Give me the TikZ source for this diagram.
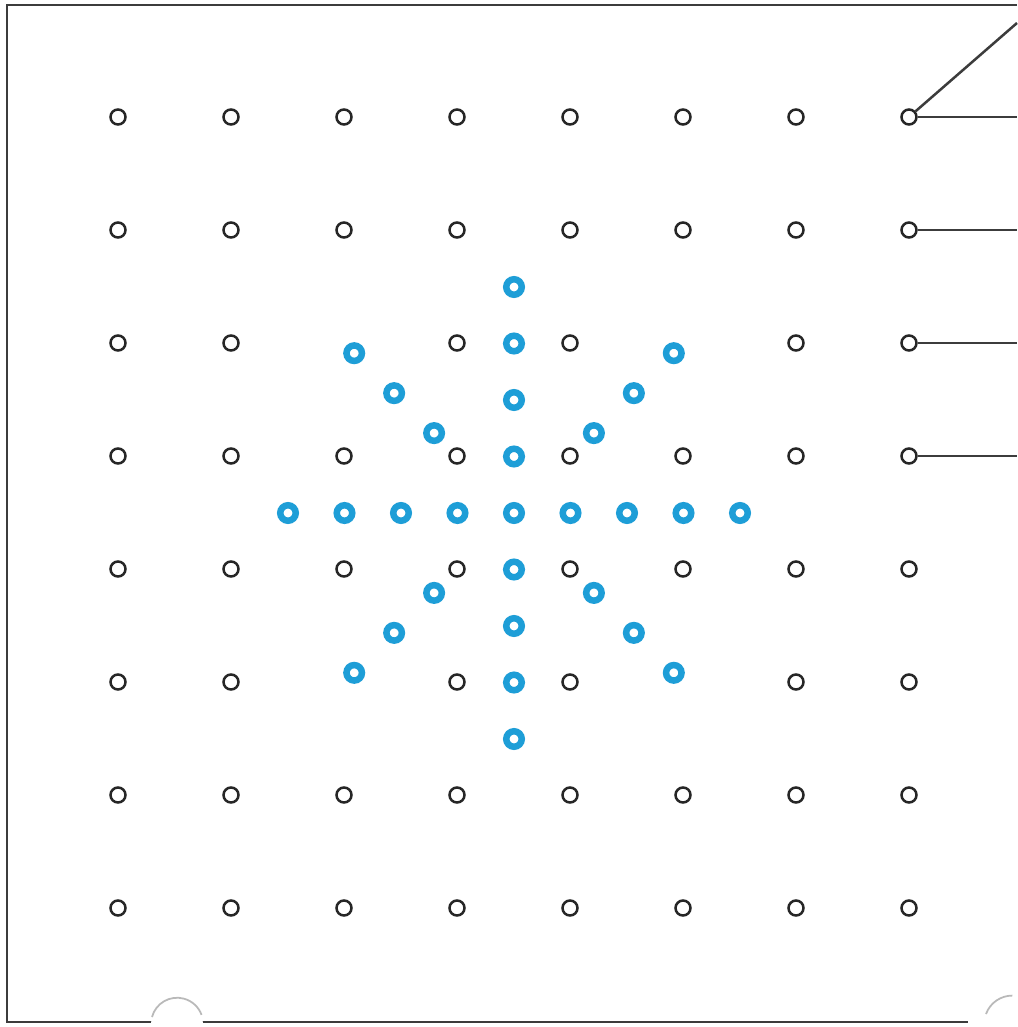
\documentclass[tikz,border=0pt]{standalone}
\usepackage{xcolor}
\usepackage{tikz}
\usetikzlibrary{calc}
\definecolor{starblue}{RGB}{30, 158, 215}
\definecolor{pegline}{RGB}{60, 60, 60}

\begin{document}
\begin{tikzpicture}[x=0.02cm, y=-0.02cm,
    peg/.style={circle, draw=black!85, line width=0.05cm, inner sep=0pt, minimum size=0.3cm},
    starpeg/.style={circle, draw=starblue, line width=0.13cm, inner sep=0pt, minimum size=0.31cm},
    wire/.style={draw=pegline, line width=0.05cm}]
        \useasboundingbox (0,0) rectangle (1017,1027);
        \fill[white] (0,0) rectangle (1017,1027);

        % Board frame
        \draw[wire] (1017,5) -- (7,5) -- (7,1022) -- (968,1022);

        % Holes in the board
        \fill[white] (177,1024) circle (26);
        \draw[gray!55, line width=0.035cm] (152,1017) arc (-165:-20:26);
        \fill[white] (1012,1024) circle (28);
        \draw[gray!55, line width=0.035cm] (986,1014) arc (-160:-90:28);

        % Grid of pegs (four are taken by the star)
        \foreach \i in {1,...,8} {
            \foreach \j in {1,...,8} {
                \pgfmathtruncatemacro{\skip}{(\i==3 || \i==6) && (\j==3 || \j==6)}
                \ifnum\skip=0
                    \node[peg] (g-\i-\j) at ({118+113*(\i-1)},{117+113*(\j-1)}) {};
                \fi
            }
        }

        % Star of pegs
        \coordinate (c) at (514,513);
        \node[starpeg] (s-0) at (c) {};
        \foreach \a in {0,90,180,270} {
            \foreach \r in {1,...,4} {
                \node[starpeg] (s-\a-\r) at ($(c)+(\a:56.5*\r)$) {};
            }
        }
        \foreach \a in {45,135,225,315} {
            \foreach \r in {2,...,4} {
                \node[starpeg] (s-\a-\r) at ($(c)+(\a:56.5*\r)$) {};
            }
        }

        % Wires to the edge
        \coordinate (top) at (1017,23);
        \draw[wire] (g-8-1) -- (top);
        \foreach \j in {1,...,4} {
            \coordinate (e-\j) at (1017,{117+113*(\j-1)});
            \draw[wire] (g-8-\j) -- (e-\j);
        }
    \end{tikzpicture}
\end{document}
